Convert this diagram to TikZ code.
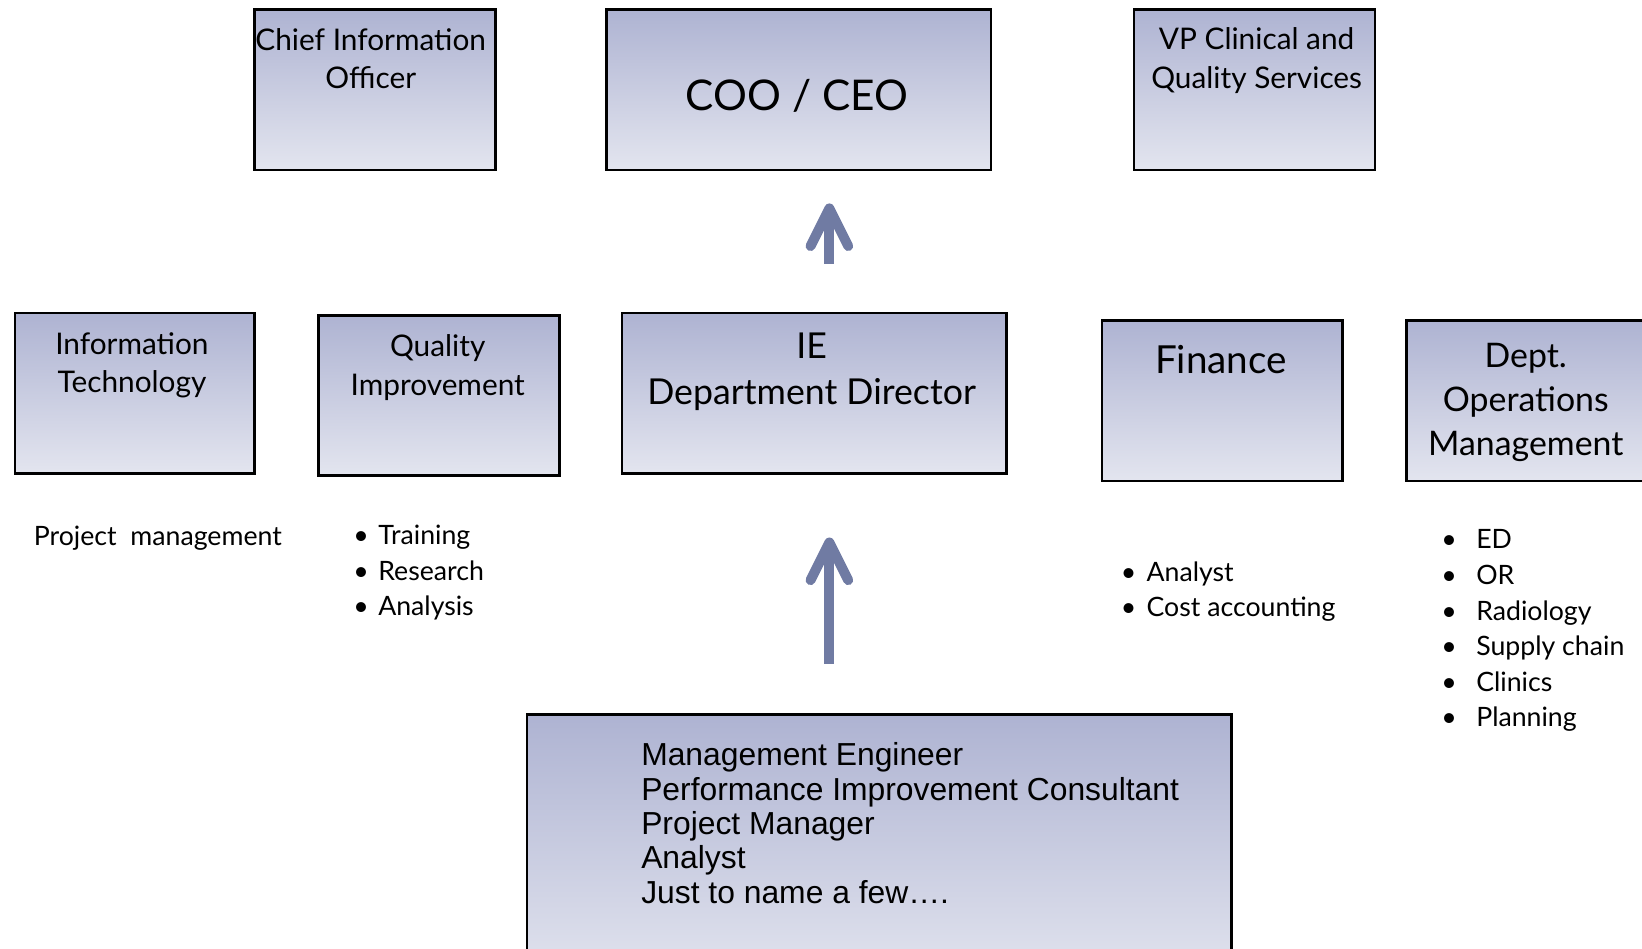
\documentclass[tikz,border=0pt]{standalone}
\usepackage{fontspec}
\setmainfont{Lato}
\newfontfamily\arialfont{Liberation Sans}
\definecolor{boxtop}{RGB}{174,179,210}
\definecolor{boxbot}{RGB}{227,229,239}
\definecolor{arrowblue}{RGB}{112,123,163}

\tikzstyle{box} = [draw, line width=1.3pt, top color=boxtop, bottom color=boxbot, anchor=north west, inner sep=0pt]
\tikzstyle{boxtext} = [align=center, inner sep=0pt]
\tikzstyle{item} = [anchor=west, inner sep=0pt, font=\fontsize{14.5}{17}\selectfont, text height=10pt, text depth=3pt]
\tikzstyle{shaft} = [draw=arrowblue, line width=5.4pt]
\tikzstyle{chevron} = [draw=arrowblue, line width=5.4pt, line cap=round, line join=round]

\begin{document}
\begin{tikzpicture}[x=0.02cm, y=-0.02cm]
	\useasboundingbox (0,0) rectangle (1568,906);
	% top row
	\node[box, minimum width=4.6cm, minimum height=3.06cm] (cio) at (242,8) {};
	\node[box, minimum width=7.34cm, minimum height=3.06cm] (ceo) at (578,8) {};
	\node[box, minimum width=4.6cm, minimum height=3.06cm] (vp) at (1082,8) {};
	\node[boxtext, font=\fontsize{16.2}{21}\selectfont] (ciotext) at (354,56) {Chief Information\\Officer};
	\node[boxtext, font=\fontsize{23}{28}\selectfont] (ceotext) at (761,92) {COO / CEO};
	\node[boxtext, font=\fontsize{16.2}{21}\selectfont] (vptext) at (1200,58) {VP Clinical and\\Quality Services};
	% middle row
	\node[box, minimum width=4.58cm, minimum height=3.06cm] (it) at (13,298) {};
	\node[box, minimum width=4.6cm, minimum height=3.06cm] (qi) at (303,300) {};
	\node[box, minimum width=7.34cm, minimum height=3.06cm] (ie) at (593,298) {};
	\node[box, minimum width=4.6cm, minimum height=3.06cm] (fin) at (1051,305) {};
	\node[box, minimum width=5.6cm, minimum height=3.06cm] (dept) at (1342,305) {};
	\node[boxtext, font=\fontsize{16.2}{21}\selectfont] (ittext) at (126,349) {Information\\Technology};
	\node[boxtext, font=\fontsize{16.2}{21}\selectfont] (qitext) at (418,351) {Quality\\Improvement};
	\node[boxtext, font=\fontsize{19.4}{25}\selectfont] (ietext) at (775,355) {IE\\Department Director};
	\node[boxtext, font=\fontsize{21}{25}\selectfont] (fintext) at (1166,343) {Finance};
	\node[boxtext, font=\fontsize{18.4}{24}\selectfont] (depttext) at (1457,384) {Dept.\\Operations\\Management};
	% lists
	\node[item] (pm) at (32,515) {Project\ \ management};
	\foreach \t [count=\i from 0] in {Training,Research,Analysis}
		\node[item] (qi\i) at (337,514+34*\i) {\makebox[13.6pt][l]{\textbullet}\t};
	\foreach \t [count=\i from 0] in {Analyst,Cost accounting}
		\node[item] (fin\i) at (1070,549+34*\i) {\makebox[14pt][l]{\textbullet}\t};
	\foreach \t [count=\i from 0] in {ED,OR,Radiology,Supply chain,Clinics,Planning}
		\node[item] (dept\i) at (1376,518+34*\i) {\makebox[19pt][l]{\textbullet}\t};
	% bottom box
	\node[box, minimum width=13.46cm, minimum height=5.2cm] (team) at (502,681) {};
	\node[anchor=west, align=left, inner sep=0pt, font=\arialfont\fontsize{17.3}{18.7}\selectfont] (teamtext) at (612,786)
		{Management Engineer\\Performance Improvement Consultant\\Project Manager\\Analyst\\Just to name a few\dots.};
	% arrows
	\coordinate (up1s) at (792,252);
	\coordinate (up1e) at (792,199);
	\draw[shaft] (up1s) -- (up1e);
	\draw[chevron] (up1e) ++(-18,36) -- (up1e) -- ++(18,36);
	\coordinate (up2s) at (792,634);
	\coordinate (up2e) at (792,518);
	\draw[shaft] (up2s) -- (up2e);
	\draw[chevron] (up2e) ++(-18,36) -- (up2e) -- ++(18,36);
\end{tikzpicture}
\end{document}
